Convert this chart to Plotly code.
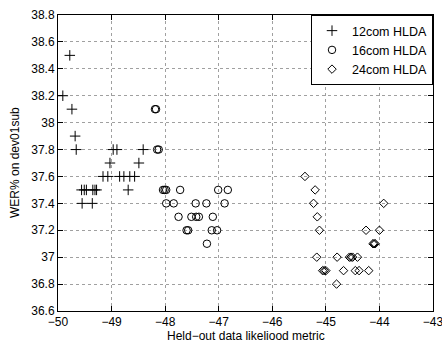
import plotly.graph_objects as go

# 12com HLDA
x12 = [-49.78, -49.91, -49.74, -49.68, -49.66,
       -49.56, -49.51, -49.47, -49.35, -49.31, -49.28,
       -49.55, -49.36,
       -49.16, -49.07, -48.85, -48.77, -48.66, -48.57,
       -49.03, -48.49,
       -48.97, -48.90, -48.41,
       -48.69]
y12 = [38.5, 38.2, 38.1, 37.9, 37.8,
       37.5, 37.5, 37.5, 37.5, 37.5, 37.5,
       37.4, 37.4,
       37.6, 37.6, 37.6, 37.6, 37.6, 37.6,
       37.7, 37.7,
       37.8, 37.8, 37.8,
       37.5]

# 16com HLDA
x16 = [-48.19, -48.17, -48.15, -48.12,
       -48.04, -48.01, -47.98, -47.72, -47.01, -46.83,
       -47.98, -47.84, -47.43, -47.23, -46.89,
       -47.75, -47.51, -47.42, -47.37, -47.11,
       -47.60, -47.57, -47.13, -47.03,
       -47.22]
y16 = [38.1, 38.1, 37.8, 37.8,
       37.5, 37.5, 37.5, 37.5, 37.5, 37.5,
       37.4, 37.4, 37.4, 37.4, 37.4,
       37.3, 37.3, 37.3, 37.3, 37.3,
       37.2, 37.2, 37.2, 37.2,
       37.1]

# 24com HLDA
x24 = [-45.39, -45.20, -45.23, -45.16, -45.12, -45.17,
       -43.92, -44.25, -44.00,
       -44.12, -44.10, -44.08,
       -44.79, -44.56, -44.53, -44.50, -44.41,
       -45.06, -45.03, -45.00, -44.67, -44.45, -44.38, -44.20,
       -44.80]
y24 = [37.6, 37.5, 37.4, 37.3, 37.2, 37.0,
       37.4, 37.2, 37.2,
       37.1, 37.1, 37.1,
       37.0, 37.0, 37.0, 37.0, 37.0,
       36.9, 36.9, 36.9, 36.9, 36.9, 36.9, 36.9,
       36.8]

xticks = [-50, -49, -48, -47, -46, -45, -44, -43]
yticks = [36.6, 36.8, 37.0, 37.2, 37.4, 37.6, 37.8, 38.0, 38.2, 38.4, 38.6, 38.8]
ylabels = ["36.6", "36.8", "37", "37.2", "37.4", "37.6", "37.8", "38", "38.2", "38.4", "38.6", "38.8"]

fig = go.Figure()
fig.add_trace(go.Scatter(x=x12, y=y12, mode="markers", name="12com HLDA",
                         marker=dict(symbol="cross-thin-open", size=7.5, color="black",
                                     line=dict(color="black", width=1))))
fig.add_trace(go.Scatter(x=x16, y=y16, mode="markers", name="16com HLDA",
                         marker=dict(symbol="circle-open", size=7.5, color="black",
                                     line=dict(color="black", width=1))))
fig.add_trace(go.Scatter(x=x24, y=y24, mode="markers", name="24com HLDA",
                         marker=dict(symbol="diamond-open", size=6.5, color="black",
                                     line=dict(color="black", width=1))))

axis_common = dict(showline=True, linecolor="black", linewidth=1, mirror="ticks",
                   ticks="inside", ticklen=5, tickcolor="black",
                   showgrid=True, gridcolor="#a0a0a0", griddash="dot", gridwidth=1,
                   zeroline=False, tickfont=dict(size=12, color="black"),
                   automargin=False, ticklabeloverflow="allow")

fig.update_layout(
    width=442, height=343,
    margin=dict(l=58, r=9, t=15, b=32),
    paper_bgcolor="white", plot_bgcolor="white",
    font=dict(family="Liberation Sans, Arial, sans-serif", size=12, color="black"),
    showlegend=True,
    legend=dict(x=1, y=1, xanchor="right", yanchor="top",
                bordercolor="black", borderwidth=1, bgcolor="white",
                font=dict(size=12.5), tracegroupgap=0, itemwidth=30),
    xaxis=dict(range=[-50, -43], tickvals=xticks, **axis_common),
    yaxis=dict(range=[36.6, 38.8], tickvals=yticks, ticktext=ylabels, **axis_common),
    annotations=[
        dict(text="Held\u2212out data likeliood metric", xref="paper", yref="paper",
             x=0.5, y=0, yshift=-24.5, xanchor="center", yanchor="middle",
             showarrow=False, font=dict(size=12)),
        dict(text="WER% on dev01sub", xref="paper", yref="paper",
             x=0, y=0.5, xshift=-43, xanchor="center", yanchor="middle",
             textangle=-90, showarrow=False, font=dict(size=12)),
    ],
)

fig.write_html("out.html",
               config={"displayModeBar": False},
               post_script="document.body.style.margin='0';document.body.style.overflow='hidden';")
